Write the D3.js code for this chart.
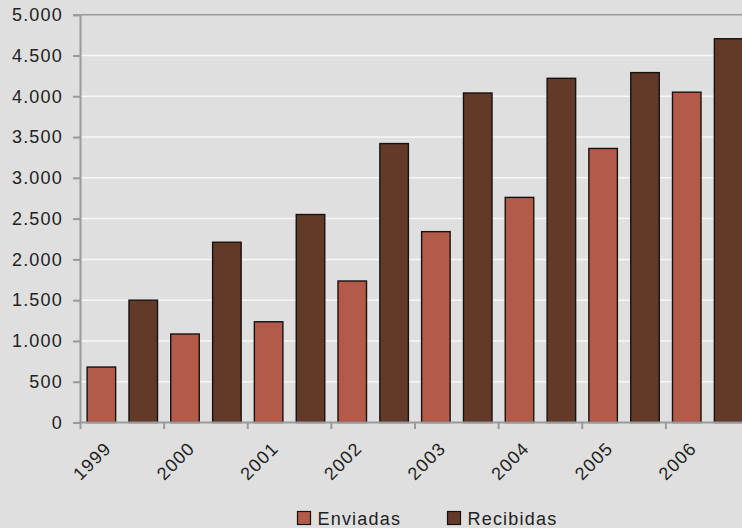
<!DOCTYPE html>
<html>
<head>
<meta charset="utf-8">
<script src="https://cdn.jsdelivr.net/npm/d3@7"></script>
<style>
  html, body { margin: 0; padding: 0; background: #dfdfdf; overflow: hidden; }
  svg { display: block; }
  text { font-family: "Liberation Sans", Arial, Helvetica, sans-serif; fill: #222; }
</style>
</head>
<body>
<svg id="chart" width="742" height="528"></svg>
<script>
// Years shown on the horizontal axis
const years = ["1999", "2000", "2001", "2002", "2003", "2004", "2005", "2006"];
// Series names and their values per year
const seriesNames = ["Enviadas", "Recibidas"];
const enviadas  = [680, 1085, 1235, 1735, 2340, 2760, 3360, 4050];
const recibidas = [1500, 2210, 2550, 3420, 4040, 4220, 4290, 4705];
// Vertical axis ticks
const yTicks = [0, 500, 1000, 1500, 2000, 2500, 3000, 3500, 4000, 4500, 5000];

const colors = { Enviadas: "#b35b48", Recibidas: "#633a28" };
const fmt = v => d3.format(",")(v).replace(/,/g, ".");
const fontSize = "18px", spacing = "1.2px";

const svg = d3.select("#chart");
const plotLeft = 80.5, plotTop = 14.7, plotBottom = 422.5, plotRight = 749.5;

const x = d3.scaleBand().domain(years).range([plotLeft, plotRight]).paddingInner(0).paddingOuter(0);
const xs = d3.scaleBand().domain(seriesNames).range([0, x.bandwidth()])
  .paddingInner(0.319).paddingOuter(0.158);
const y = d3.scaleLinear().domain([0, 5000]).range([plotBottom, plotTop]);

// horizontal gridlines
svg.append("g").selectAll("line")
  .data(yTicks.filter(t => t > 0 && t < 5000))
  .join("line")
  .attr("x1", plotLeft).attr("x2", 742)
  .attr("y1", d => y(d)).attr("y2", d => y(d))
  .attr("stroke", "#f7f7f7").attr("stroke-width", 1.5);

// top frame line
svg.append("line")
  .attr("x1", plotLeft).attr("x2", 742).attr("y1", y(5000)).attr("y2", y(5000))
  .attr("stroke", "#9a9a9a").attr("stroke-width", 1.5);

// bars
const data = years.map((yr, i) => ({ year: yr, Enviadas: enviadas[i], Recibidas: recibidas[i] }));
svg.append("g").selectAll("g")
  .data(data)
  .join("g")
  .attr("transform", d => `translate(${x(d.year)},0)`)
  .selectAll("rect")
  .data(d => seriesNames.map(s => ({ key: s, value: d[s] })))
  .join("rect")
  .attr("x", d => xs(d.key))
  .attr("width", xs.bandwidth())
  .attr("y", d => y(d.value))
  .attr("height", d => y(0) - y(d.value))
  .attr("fill", d => colors[d.key])
  .attr("stroke", "#161210")
  .attr("stroke-width", 1.4);

// y axis
const yAxis = d3.axisLeft(y).tickValues(yTicks).tickFormat(fmt).tickSize(7).tickPadding(10);
const gy = svg.append("g").attr("transform", `translate(${plotLeft - 0.5},0)`).call(yAxis);
gy.select(".domain").attr("stroke", "#9a9a9a").attr("stroke-width", 2);
gy.selectAll(".tick line").attr("stroke", "#9a9a9a").attr("stroke-width", 2);
gy.selectAll(".tick text")
  .style("font-family", '"Liberation Sans", Arial, sans-serif')
  .style("font-size", fontSize).style("letter-spacing", spacing)
  .attr("fill", "#222");

// x axis with ticks on category boundaries
svg.append("line")
  .attr("x1", plotLeft - 1.5).attr("x2", 742).attr("y1", plotBottom).attr("y2", plotBottom)
  .attr("stroke", "#9a9a9a").attr("stroke-width", 2);
svg.append("g").selectAll("line")
  .data(years)
  .join("line")
  .attr("x1", d => x(d)).attr("x2", d => x(d))
  .attr("y1", plotBottom).attr("y2", plotBottom + 6.5)
  .attr("stroke", "#9a9a9a").attr("stroke-width", 2);

svg.append("g").selectAll("text")
  .data(years)
  .join("text")
  .attr("transform", d => `translate(${x(d) + x.bandwidth() / 2 - 10},${plotBottom + 27}) rotate(-45)`)
  .attr("text-anchor", "end")
  .style("font-size", fontSize).style("letter-spacing", spacing)
  .text(d => d);

// legend
const legend = svg.append("g");
const legendX = [297.5, 447.5];
seriesNames.forEach((s, i) => {
  legend.append("rect")
    .attr("x", legendX[i]).attr("y", 511.5).attr("width", 13).attr("height", 13)
    .attr("fill", colors[s]).attr("stroke", "#161210").attr("stroke-width", 1.2);
  legend.append("text")
    .attr("x", legendX[i] + 20).attr("y", 525)
    .style("font-size", fontSize).style("letter-spacing", spacing)
    .text(s);
});
</script>
</body>
</html>
